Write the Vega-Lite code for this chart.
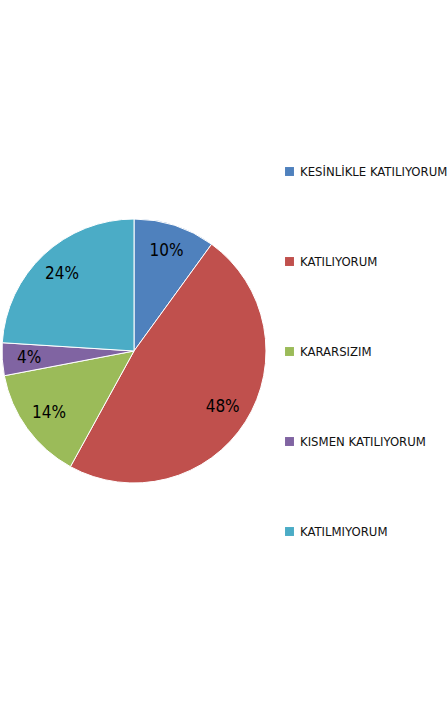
{
  "$schema": "https://vega.github.io/schema/vega-lite/v6.json",
  "width": 264,
  "height": 702,
  "padding": 0,
  "autosize": {"type": "pad"},
  "background": "white",
  "config": {"view": {"stroke": null}},
  "data": {
    "values": [
      {"cat": "KESİNLİKLE KATILIYORUM", "pct": 10, "label": "10%", "i": 1},
      {"cat": "KATILIYORUM", "pct": 48, "label": "48%", "i": 2},
      {"cat": "KARARSIZIM", "pct": 14, "label": "14%", "i": 3},
      {"cat": "KISMEN KATILIYORUM", "pct": 4, "label": "4%", "i": 4},
      {"cat": "KATILMIYORUM", "pct": 24, "label": "24%", "i": 5}
    ]
  },
  "encoding": {
    "theta": {"field": "pct", "type": "quantitative", "stack": true},
    "order": {"field": "i", "type": "quantitative"}
  },
  "layer": [
    {
      "mark": {"type": "arc", "stroke": "white", "strokeWidth": 1},
      "encoding": {
        "color": {
          "field": "cat",
          "type": "nominal",
          "scale": {
            "domain": ["KESİNLİKLE KATILIYORUM", "KATILIYORUM", "KARARSIZIM", "KISMEN KATILIYORUM", "KATILMIYORUM"],
            "range": ["#4F81BD", "#C0504D", "#9BBB59", "#8064A2", "#4BACC6"]
          },
          "legend": {
            "title": null,
            "orient": "none",
            "legendX": 281,
            "legendY": 165,
            "symbolType": "square",
            "symbolSize": 80,
            "symbolStrokeWidth": 0,
            "labelFont": "DejaVu Sans Condensed",
            "labelFontSize": 13,
            "labelColor": "#111111",
            "labelOffset": 4,
            "rowPadding": 76,
            "labelLimit": 170
          }
        }
      }
    },
    {
      "mark": {"type": "text", "radius": 105, "font": "DejaVu Sans Condensed", "fontSize": 17, "color": "#000000"},
      "encoding": {"text": {"field": "label"}}
    }
  ]
}
